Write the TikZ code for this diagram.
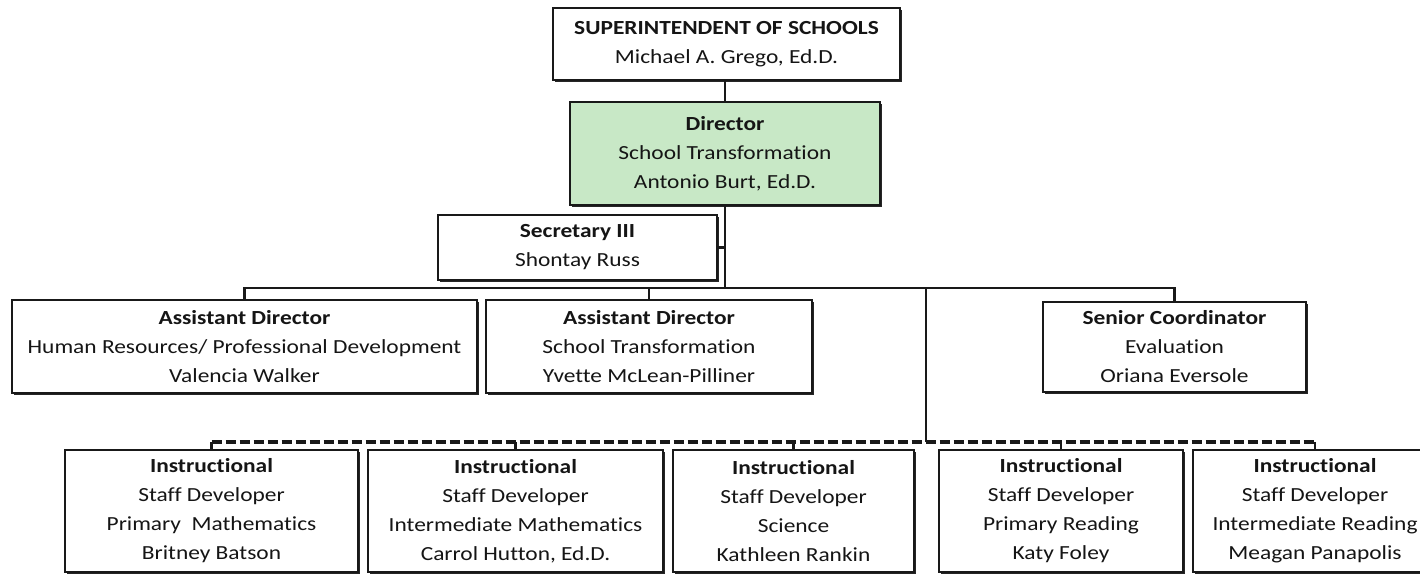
\documentclass[tikz,border=0pt]{standalone}
\usepackage{fontspec}
\setmainfont{Carlito}[FakeStretch=1.17, Ligatures={NoCommon}]
\usetikzlibrary{shadows}
\definecolor{txt}{HTML}{151515}
\definecolor{dirgreen}{RGB}{200,232,198}
\tikzset{
  orgbox/.style={draw=black!90, line width=1.8pt, fill=white, inner sep=0pt,
    align=center, text=txt,
    font=\fontsize{20pt}{29pt}\selectfont,
    drop shadow={shadow xshift=1.8pt, shadow yshift=-2.2pt, fill=black!85, opacity=1}},
  link/.style={draw=black!90, line width=2.2pt},
  dlink/.style={draw=black!90, line width=3.2pt, dash pattern=on 10pt off 4pt}
}
\begin{document}
\begin{tikzpicture}[x=1pt,y=-1pt]
\useasboundingbox (0,0) rectangle (1420,574);
% top
\node[orgbox, minimum width=347pt, minimum height=72pt] (sup) at (726.5,44)
  {\textbf{SUPERINTENDENT OF SCHOOLS}\\Michael A. Grego, Ed.D.};
\node[orgbox, fill=dirgreen, minimum width=310pt, minimum height=103pt] (dir) at (725,153.5)
  {\textbf{Director}\\School Transformation\\Antonio Burt, Ed.D.};
\node[orgbox, minimum width=279pt, minimum height=65pt] (sec) at (577.5,247.5)
  {\textbf{Secretary III}\\Shontay Russ};
% second level
\node[orgbox, minimum width=465pt, minimum height=93pt] (ad1) at (244.5,346.5)
  {\textbf{Assistant Director}\\Human Resources/ Professional Development\\Valencia Walker};
\node[orgbox, minimum width=326pt, minimum height=93pt] (ad2) at (649,346.5)
  {\textbf{Assistant Director}\\School Transformation\\Yvette McLean-Pilliner};
\node[orgbox, minimum width=263pt, minimum height=90pt] (sen) at (1174.5,347)
  {\textbf{Senior Coordinator}\\Evaluation\\Oriana Eversole};
% bottom level
\node[orgbox, minimum width=293pt, minimum height=122pt] (i1) at (211.5,511)
  {\textbf{Instructional}\\Staff Developer\\Primary~ Mathematics\\Britney Batson};
\node[orgbox, minimum width=295pt, minimum height=122pt] (i2) at (515.5,511)
  {\textbf{Instructional}\\Staff Developer\\Intermediate Mathematics\\Carrol Hutton, Ed.D.};
\node[orgbox, minimum width=241pt, minimum height=122pt] (i3) at (793.5,511)
  {\textbf{Instructional}\\Staff Developer\\Science\\Kathleen Rankin};
\node[orgbox, minimum width=244pt, minimum height=122pt] (i4) at (1061,511)
  {\textbf{Instructional}\\Staff Developer\\Primary Reading\\Katy Foley};
\node[orgbox, minimum width=244pt, minimum height=122pt] (i5) at (1315,511)
  {\textbf{Instructional}\\Staff Developer\\Intermediate Reading\\Meagan Panapolis};
% helper coordinates
\coordinate (hl) at (0,288);
\coordinate (dv) at (926,288);
\coordinate (dl) at (926,442);
% connectors
\draw[link] (dir.north |- sup.south) -- (dir.north);
\draw[link] (dir.south) -- (dir.south |- hl);
\draw[link] (sec.east) -- (sec.east -| dir.south);
\draw[link] (ad1.north) -- (ad1.north |- hl) -- (sen.north |- hl) -- (sen.north);
\draw[link] (ad2.north |- hl) -- (ad2.north);
\draw[link] (dv) -- (dl);
\draw[dlink] (i1.north |- dl) -- (i5.north |- dl);
\foreach \n in {i1,i2,i3,i4,i5}
  \draw[link] (\n.north |- dl) -- (\n.north);
\end{tikzpicture}
\end{document}
